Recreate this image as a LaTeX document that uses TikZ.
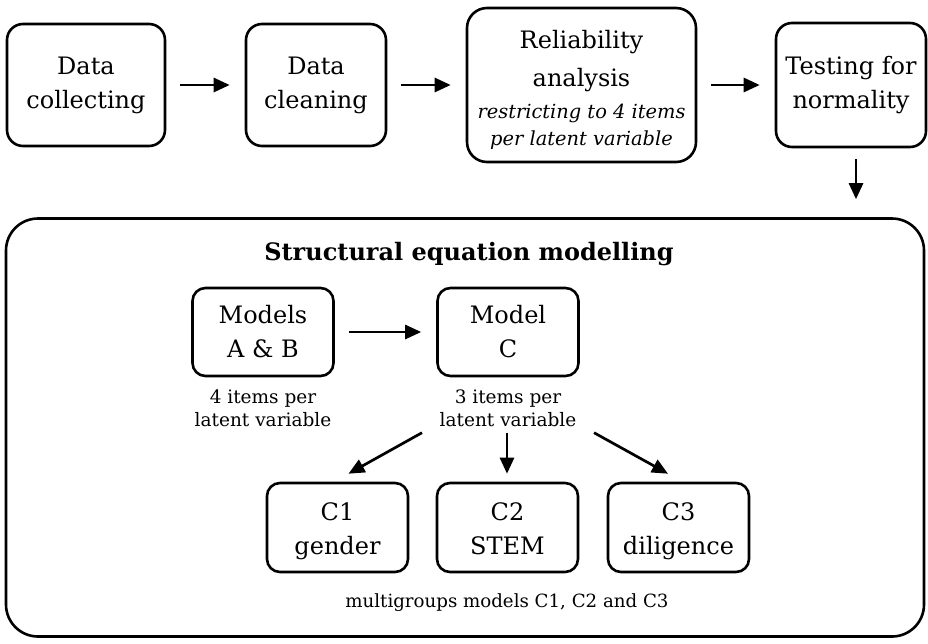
\documentclass[tikz,border=0pt]{standalone}
\usepackage{fontspec}
\setmainfont{DejaVu Serif}
\usetikzlibrary{arrows.meta}
\begin{document}
\begin{tikzpicture}[x=1pt,y=-1pt,
  box/.style={draw, line width=2.6pt, rounded corners=16pt, align=center,
    inner sep=0pt, font=\fontsize{24}{34}\selectfont},
  small box/.style={box, minimum width=141pt, minimum height=88pt, rounded corners=13pt},
  note/.style={align=center, inner sep=0pt, font=\fontsize{18.5}{23}\selectfont},
  arr/.style={-{Triangle[length=16pt,width=14pt]}, line width=2.7pt},
  hgap/.style={shorten <=14pt, shorten >=15pt}]
\useasboundingbox (0,0) rectangle (928,643);

% pipeline along the top
\node[box, minimum width=158pt, minimum height=122pt] (collect) at (86,85) {Data\\collecting};
\node[box, minimum width=140pt, minimum height=122pt] (clean) at (316,85) {Data\\cleaning};
\node[box, minimum width=229pt, minimum height=154pt, rounded corners=20pt] (reliab) at (581.5,85) {};
\node[align=center, inner sep=0pt, font=\fontsize{24}{38}\selectfont] (reltitle) at (581.5,61) {Reliability\\analysis};
\node[align=center, inner sep=0pt, font=\fontsize{19.4}{27}\selectfont\itshape] (relnote) at (581.5,127)
  {restricting to 4 items\\per latent variable};
\node[box, minimum width=150pt, minimum height=124pt] (normal) at (851,85) {Testing for\\normality};

\draw[arr, hgap] (collect) -- (clean);
\draw[arr, hgap] (clean) -- (reliab);
\draw[arr, hgap] (reliab) -- (normal);

% structural equation modelling frame
\node[draw, line width=2.6pt, rounded corners=32pt, minimum width=918pt, minimum height=418pt,
  inner sep=0pt] (sem) at (465,427.5) {};
\node[font=\fontsize{24}{28}\selectfont\bfseries, inner sep=0pt] (semtitle) at (469,254)
  {Structural equation modelling};

\draw[arr, shorten <=11pt, shorten >=18pt] ([xshift=5pt]normal.south) -- ([xshift=5pt]normal.south |- sem.north);

% models
\node[small box] (mab) at (263,332) {Models\\A \& B};
\node[small box] (mc) at (508,332) {Model\\C};
\draw[arr, hgap] (mab) -- (mc);

\node[note] (nab) at (263,408) {4 items per\\latent variable};
\node[note] (nc) at (508,408) {3 items per\\latent variable};

% multigroup models (struts keep the three boxes' lines on the same baselines)
\node[small box, minimum height=89pt] (c1) at (337.5,527.5) {\rule{0pt}{26pt}C1\\gender};
\node[small box, minimum height=89pt] (c2) at (507.5,527.5) {\rule{0pt}{26pt}C2\\STEM\vphantom{g}};
\node[small box, minimum height=89pt] (c3) at (678.5,527.5) {\rule{0pt}{26pt}C3\\diligence};

\draw[arr] ([xshift=-86pt,yshift=-6pt]nc.south) -- ([xshift=11pt,yshift=8pt]c1.north);
\draw[arr] ([xshift=-1pt,yshift=-6pt]nc.south) -- ([xshift=-0.5pt,yshift=8pt]c2.north);
\draw[arr] ([xshift=86pt,yshift=-6pt]nc.south) -- ([xshift=-10.5pt,yshift=8pt]c3.north);

\node[font=\fontsize{18.2}{22}\selectfont, inner sep=0pt] (mg) at (507,603) {multigroups models C1, C2 and C3};
\end{tikzpicture}
\end{document}
